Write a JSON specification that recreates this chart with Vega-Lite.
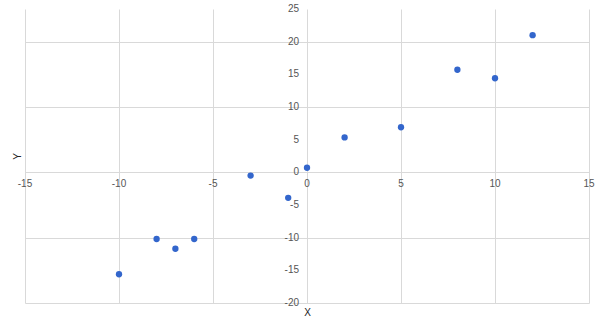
{
  "$schema": "https://vega.github.io/schema/vega-lite/v6.json",
  "width": 564,
  "height": 294,
  "autosize": {"type": "none"},
  "padding": {"left": 25, "top": 9, "right": 11, "bottom": 18},
  "background": "white",
  "config": {"view": {"stroke": null}, "font": "Liberation Sans"},
  "datasets": {
    "pts": [
      {"x": -10, "y": -15.6},
      {"x": -8, "y": -10.2},
      {"x": -7, "y": -11.7},
      {"x": -6, "y": -10.2},
      {"x": -3, "y": -0.5},
      {"x": -1, "y": -3.9},
      {"x": 0, "y": 0.7},
      {"x": 2, "y": 5.35},
      {"x": 5, "y": 6.9},
      {"x": 8, "y": 15.7},
      {"x": 10, "y": 14.4},
      {"x": 12, "y": 21}
    ],
    "xt": [{"v": -15, "t": "-15", "z": 0}, {"v": -10, "t": "-10", "z": 0}, {"v": -5, "t": "-5", "z": 0}, {"v": 0, "t": "0", "z": 0}, {"v": 5, "t": "5", "z": 0}, {"v": 10, "t": "10", "z": 0}, {"v": 15, "t": "15", "z": 0}],
    "yt": [{"v": -20, "t": "-20", "z": 0}, {"v": -15, "t": "-15", "z": 0}, {"v": -10, "t": "-10", "z": 0}, {"v": -5, "t": "-5", "z": 0}, {"v": 0, "t": "0", "z": 0}, {"v": 5, "t": "5", "z": 0}, {"v": 10, "t": "10", "z": 0}, {"v": 15, "t": "15", "z": 0}, {"v": 20, "t": "20", "z": 0}, {"v": 25, "t": "25", "z": 0}]
  },
  "layer": [
    {
      "data": {"name": "pts"},
      "mark": {"type": "point", "filled": true, "size": 40, "color": "#3366cc", "opacity": 1},
      "encoding": {
        "x": {
          "field": "x", "type": "quantitative",
          "scale": {"domain": [-15, 15], "nice": false, "zero": false},
          "axis": {"title": "X", "values": [-15, -10, -5, 0, 5, 10, 15], "labels": false, "ticks": false, "domain": false, "grid": true, "gridColor": "#d9d9d9", "gridOpacity": 1, "titleFontWeight": "normal", "titleFontSize": 10, "titleColor": "#222", "titlePadding": 4}
        },
        "y": {
          "field": "y", "type": "quantitative",
          "scale": {"domain": [-20, 25], "nice": false, "zero": false},
          "axis": {"title": "Y", "values": [-20, -15, -10, -5, 0, 5, 10, 15, 20, 25], "labels": false, "ticks": false, "domain": false, "grid": true, "gridColor": "#d9d9d9", "gridOpacity": 1, "titleFontWeight": "normal", "titleFontSize": 10, "titleColor": "#222", "titlePadding": 3}
        }
      }
    },
    {
      "data": {"name": "xt"},
      "mark": {"type": "text", "fontSize": 10, "color": "#555", "dy": 12, "align": "center", "baseline": "middle"},
      "encoding": {
        "x": {"field": "v", "type": "quantitative"},
        "y": {"field": "z", "type": "quantitative"},
        "text": {"field": "t", "type": "nominal"}
      }
    },
    {
      "data": {"name": "yt"},
      "mark": {"type": "text", "fontSize": 10, "color": "#555", "dx": -8, "align": "right", "baseline": "middle"},
      "encoding": {
        "x": {"field": "z", "type": "quantitative"},
        "y": {"field": "v", "type": "quantitative"},
        "text": {"field": "t", "type": "nominal"}
      }
    }
  ]
}
